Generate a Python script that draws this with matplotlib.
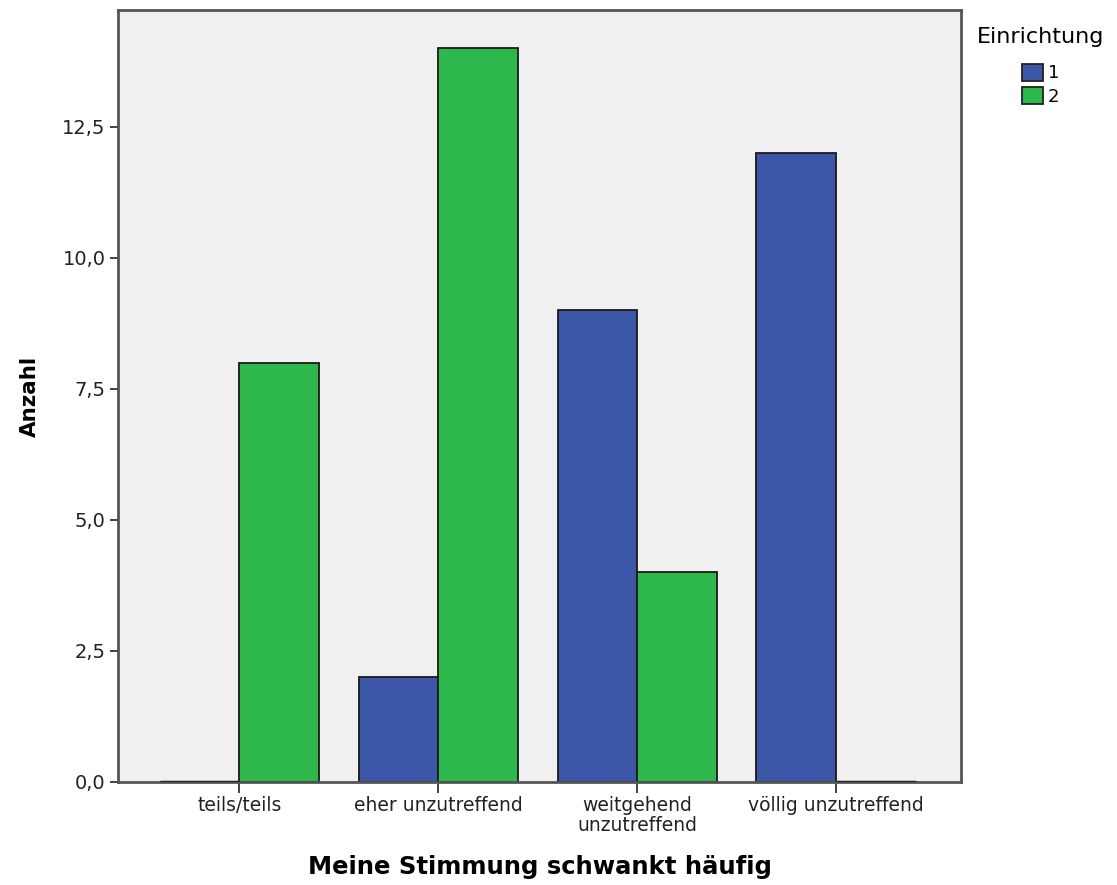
import numpy as np
import matplotlib.pyplot as plt
from matplotlib.ticker import FuncFormatter

categories = ['teils/teils', 'eher unzutreffend', 'weitgehend\nunzutreffend', 'völlig unzutreffend']
einr_1 = [0, 2, 9, 12]
einr_2 = [8, 14, 4, 0]
series_labels = ['1', '2']

plt.rcParams['font.family'] = ['DejaVu Sans']

fig = plt.figure(figsize=(11.17, 8.85), dpi=100)
ax = fig.add_axes([0.1056, 0.1164, 0.755, 0.8723])
ax.set_facecolor('#f0f0f0')

x = np.arange(len(categories))
w = 0.4
colors = ['#3d57a8', '#2eb84b']
for i, vals in enumerate([einr_1, einr_2]):
    offs = x + (i - 0.5) * w
    for xi, v in zip(offs, vals):
        if v == 0:
            # zero counts drawn as a flat line on the baseline
            ax.plot([xi - w / 2, xi + w / 2], [0, 0], color='#222222', lw=2.5, zorder=3,
                    solid_capstyle='butt')
    ax.bar(offs, vals, width=w, color=colors[i], edgecolor='#1a1a1a', linewidth=1.3,
           label=series_labels[i], zorder=2)

ax.set_xlim(-0.61, 3.63)
ax.set_ylim(0, 14.73)
ax.set_yticks([0, 2.5, 5, 7.5, 10, 12.5])
ax.yaxis.set_major_formatter(FuncFormatter(lambda v, p: f'{v:.1f}'.replace('.', ',')))
ax.set_xticks(x)
ax.set_xticklabels(categories, fontsize=13.5, color='#222222', linespacing=1.1)
ax.tick_params(axis='y', labelsize=14, labelcolor='#222222', length=6, width=1.2, color='#222222', pad=3)
ax.tick_params(axis='x', length=8, width=1.2, color='#222222', pad=2)

for s in ax.spines.values():
    s.set_color('#555555')
    s.set_linewidth(2)

ax.set_ylabel('Anzahl', fontsize=15.5, fontweight='bold', labelpad=16)
ax.set_xlabel('Meine Stimmung schwankt häufig', fontsize=17.5, fontweight='bold', labelpad=14)

leg = ax.legend(title='Einrichtung', loc='upper left', bbox_to_anchor=(0.86, 0.988),
                bbox_transform=fig.transFigure, frameon=False, fontsize=13,
                title_fontsize=16, handlelength=1.2, handleheight=1.1,
                handletextpad=0.25, labelspacing=0.25)
leg._legend_box.sep = 12
for h in leg.legend_handles:
    h.set_edgecolor('#222222')

fig.savefig('out.png', dpi=100)
